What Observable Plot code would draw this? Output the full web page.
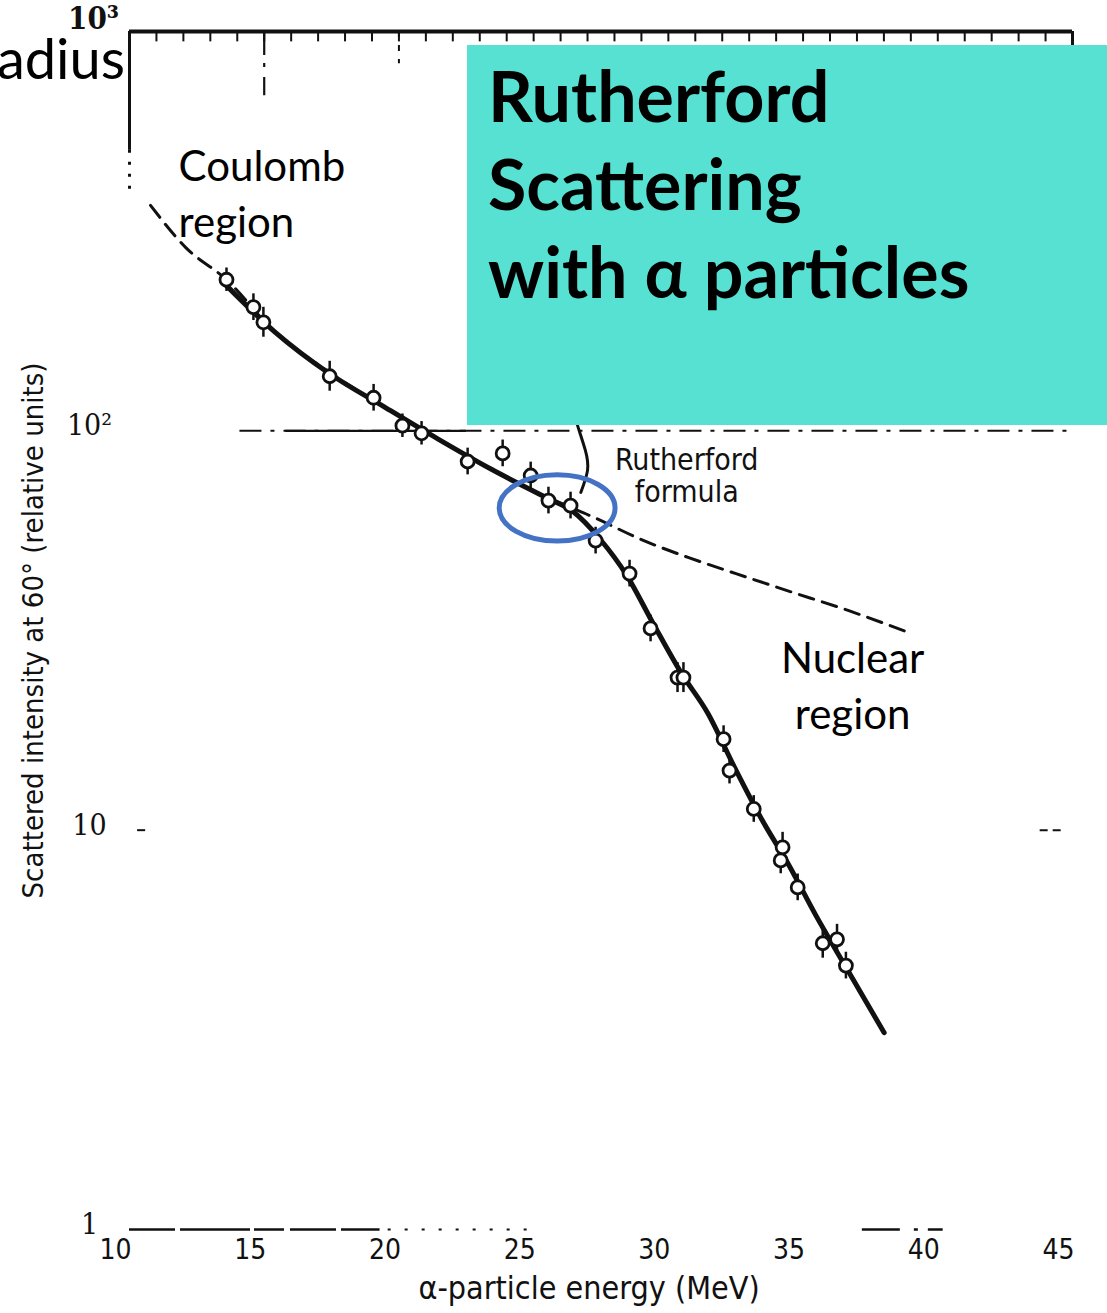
<!DOCTYPE html>
<html>
<head>
<meta charset="utf-8">
<script src="https://cdn.jsdelivr.net/npm/d3@7"></script>
<script src="https://cdn.jsdelivr.net/npm/@observablehq/plot@0.6"></script>
<style>
  html, body { margin: 0; padding: 0; background: #fff; }
  #wrap { position: relative; width: 1107px; height: 1313px; overflow: hidden; }
  #wrap svg { position: absolute; left: 0; top: 0; }
  #panel {
    position: absolute; left: 467px; top: 45px; width: 640px; height: 380px;
    background: #57E1D3; box-sizing: border-box; padding: 6px 0 0 21px; z-index: 2;
    font-family: Lato, "Open Sans", sans-serif; font-weight: 700; font-size: 70px;
    line-height: 88px; color: #000;
  }
  #slideTitle {
    position: absolute; right: 982px; top: 36px; z-index: 2; white-space: nowrap;
    font-family: Lato, "Open Sans", sans-serif; font-size: 56px; line-height: 0.8; color: #000;
  }
</style>
</head>
<body>
<div id="wrap">
  <div id="slideTitle">radius</div>
  <div id="panel">Rutherford<br>Scattering<br>with α particles</div>
</div>
<script>
// Measured scattered intensity of alpha particles at 60° versus beam energy
const energy = [13.60, 14.60, 14.97, 17.43, 19.06, 20.13, 20.84, 22.55, 23.85, 24.89, 25.55, 26.37, 27.30,
                28.56, 29.34, 30.34, 30.56, 32.05, 32.27, 33.17, 34.24, 34.17, 34.80, 35.73, 36.26, 36.59];
const intensity = [239, 204, 187, 137, 121, 103, 98.6, 83.8, 87.8, 77.3, 66.9, 65.0, 53.1,
                   43.9, 32.0, 24.1, 24.1, 16.9, 14.1, 11.3, 9.06, 8.40, 7.19, 5.21, 5.33, 4.58];
const relError = [0.07, 0.08, 0.09, 0.09, 0.08, 0.07, 0.07, 0.08, 0.08, 0.08, 0.08, 0.08, 0.08,
                  0.08, 0.08, 0.09, 0.09, 0.08, 0.08, 0.08, 0.09, 0.08, 0.08, 0.09, 0.09, 0.08];

// Smooth curve drawn through the measurements
const fitEnergy = [13.60, 15.39, 17.43, 19.44, 21.44, 23.45, 25.45, 26.46, 27.46, 28.46, 29.47,
                   30.47, 31.47, 32.47, 33.48, 34.48, 35.48, 36.49, 38.01];
const fitIntensity = [231, 177, 139, 115, 95.5, 80.0, 68.1, 62.8, 53.6, 43.4, 32.6,
                      24.8, 19.6, 14.3, 10.6, 8.16, 6.11, 4.66, 3.11];

// Prediction of the Rutherford (pure Coulomb) formula
const rutherfordEnergy = [10.78, 12.08, 13.60, 15.39, 17.43, 19.44, 21.44, 23.45, 25.45, 27.24,
                          29.09, 30.73, 32.51, 34.41, 36.67, 39.01];
const rutherfordIntensity = [367, 288, 239, 177, 140, 115, 95.5, 80.0, 68.4, 60.7,
                             53.1, 48.2, 43.9, 39.8, 35.5, 31.1];

// Leader line from the "Rutherford formula" label to the dashed curve
const leaderEnergy = [26.55, 26.66, 26.92, 27.00, 26.75];
const leaderIntensity = [108, 101.6, 89.3, 79.6, 70.1];

// Region where the data leave the Rutherford curve (ellipse bounds)
const highlightEnergy = [23.74, 28.04];
const highlightIntensity = [52.8, 77.4];

// Axes
const xTicks = [10, 15, 20, 25, 30, 35, 40, 45];
const xMinorTicks = d3.range(11, 45);
const yTicks = [1, 10, 100, 1000];
const yTickLabels = ["1", "10", "10²", "10³"];
const xLabel = "α-particle energy (MeV)";
const yLabel = "Scattered intensity at 60° (relative units)";

// Annotations
const coulombNote = [{energy: 11.82, intensity: 398, text: "Coulomb\nregion"}];
const nuclearNote = [{energy: 36.84, intensity: 23.3, text: "Nuclear\nregion"}];
const formulaNote = [{energy: 30.68, intensity: 77.3, text: "Rutherford\nformula"}];

const points = energy.map((e, i) => ({energy: e, intensity: intensity[i], err: relError[i]}));
const fit = fitEnergy.map((e, i) => ({energy: e, intensity: fitIntensity[i]}));
const rutherford = rutherfordEnergy.map((e, i) => ({energy: e, intensity: rutherfordIntensity[i]}));
const leader = leaderEnergy.map((e, i) => ({energy: e, intensity: leaderIntensity[i]}));
const yTickRows = yTicks.map((v, i) => ({value: v, label: yTickLabels[i]}));

const scanSans = "'DejaVu Sans Condensed', 'Liberation Sans Narrow', 'DejaVu Sans', sans-serif";
const slideSans = "Lato, 'Open Sans', sans-serif";
const ink = "#111";

const chart = Plot.plot({
  width: 1107,
  height: 1313,
  marginLeft: 129,
  marginRight: 35,
  marginTop: 31,
  marginBottom: 84,
  x: {domain: [10, 45], axis: null},
  y: {type: "log", domain: [1, 1000], axis: null},
  style: {background: "transparent", overflow: "visible", fontStretch: "condensed"},
  marks: [
    // frame of the original graph paper
    Plot.ruleY([1000], {x1: 10, x2: 45, stroke: ink, strokeWidth: 4}),
    Plot.ruleX([10], {y1: 1000, y2: 504, stroke: ink, strokeWidth: 3}),
    Plot.ruleX([10], {y1: 504, y2: 389, stroke: ink, strokeWidth: 3, strokeDasharray: "3 9"}),
    Plot.ruleX([45], {y1: 1000, y2: 920, stroke: ink, strokeWidth: 3}),
    Plot.ruleX(xMinorTicks, {y1: 1000, y2: 942, stroke: ink, strokeWidth: 2}),
    Plot.ruleX([15], {y1: 1000, y2: 690, stroke: ink, strokeWidth: 2.2, strokeDasharray: "24 8 4 10"}),
    Plot.ruleX([20], {y1: 1000, y2: 830, stroke: ink, strokeWidth: 2, strokeDasharray: "6 8"}),
    Plot.ruleY([100], {x1: 14.1, x2: 45, stroke: ink, strokeWidth: 2, strokeDasharray: "22 9 4 9"}),
    Plot.ruleY([100], {x1: 15.8, x2: 22.5, stroke: ink, strokeWidth: 2.2}),
    Plot.ruleY([10], {x1: 10.3, x2: 10.6, stroke: ink, strokeWidth: 2}),
    Plot.ruleY([10], {x1: 43.8, x2: 44.6, stroke: ink, strokeWidth: 2, strokeDasharray: "8 5"}),
    Plot.ruleY([1], {x1: 10, x2: 19.3, stroke: ink, strokeWidth: 2.5, strokeDasharray: "46 5 70 4 30 6"}),
    Plot.ruleY([1], {x1: 19.6, x2: 25.2, stroke: ink, strokeWidth: 2, strokeDasharray: "3 14"}),
    Plot.ruleY([1], {x1: 37.2, x2: 40.2, stroke: ink, strokeWidth: 2.5, strokeDasharray: "38 14 4 10"}),

    // axis labels
    Plot.text(xTicks, {x: d => d, text: d => String(d), frameAnchor: "bottom", dx: -14, dy: 29,
      fontSize: 28, fontFamily: scanSans, fill: ink}),
    Plot.text(yTickRows.filter(d => d.value < 1000), {y: "value", text: "label", frameAnchor: "left",
      textAnchor: "middle", dx: -40, dy: -5, fontSize: 30, fontFamily: "'DejaVu Serif', serif", fill: ink}),
    Plot.text(yTickRows.filter(d => d.value >= 1000), {y: "value", text: "label", frameAnchor: "left",
      textAnchor: "middle", dx: -36, dy: -12, fontSize: 31, fontWeight: "bold",
      fontFamily: "'DejaVu Serif', serif", fill: ink}),
    Plot.text([xLabel], {frameAnchor: "bottom", textAnchor: "middle", dx: -12, dy: 69, fontSize: 32,
      fontFamily: scanSans, fill: ink}),
    Plot.text([yLabel], {frameAnchor: "left", textAnchor: "middle", dx: -96, rotate: -90, fontSize: 29,
      fontFamily: scanSans, fill: ink}),

    // curves
    Plot.line(rutherford, {x: "energy", y: "intensity", curve: "monotone-x", stroke: ink,
      strokeWidth: 3, strokeDasharray: "15 9"}),
    Plot.line(fit, {x: "energy", y: "intensity", curve: "monotone-x", stroke: ink, strokeWidth: 5}),
    Plot.line(leader, {x: "energy", y: "intensity", curve: "natural", stroke: ink, strokeWidth: 3}),

    // measurements with error bars
    Plot.ruleX(points, {x: "energy", y1: d => d.intensity / (1 + d.err), y2: d => d.intensity * (1 + d.err),
      stroke: ink, strokeWidth: 2.5}),
    Plot.dot(points, {x: "energy", y: "intensity", r: 6.5, fill: "white", stroke: ink, strokeWidth: 2.8}),

    // labels
    Plot.text(formulaNote, {x: "energy", y: "intensity", text: "text", fontSize: 30, lineHeight: 1.06,
      fontFamily: scanSans, fill: ink}),
    Plot.text(coulombNote, {x: "energy", y: "intensity", text: "text", textAnchor: "start", fontSize: 42,
      lineHeight: 1.34, fontFamily: slideSans, fill: "#000"}),
    Plot.text(nuclearNote, {x: "energy", y: "intensity", text: "text", textAnchor: "middle", fontSize: 42,
      lineHeight: 1.33, fontFamily: slideSans, fill: "#000"}),

    // highlight ellipse
    (index, {x, y}) => {
      const el = document.createElementNS("http://www.w3.org/2000/svg", "ellipse");
      const x0 = x(highlightEnergy[0]), x1 = x(highlightEnergy[1]);
      const y0 = y(highlightIntensity[0]), y1 = y(highlightIntensity[1]);
      el.setAttribute("cx", (x0 + x1) / 2);
      el.setAttribute("cy", (y0 + y1) / 2);
      el.setAttribute("rx", Math.abs(x1 - x0) / 2);
      el.setAttribute("ry", Math.abs(y1 - y0) / 2);
      el.setAttribute("fill", "none");
      el.setAttribute("stroke", "#4472C4");
      el.setAttribute("stroke-width", 5);
      return el;
    }
  ]
});

document.getElementById("wrap").prepend(chart);
</script>
</body>
</html>
